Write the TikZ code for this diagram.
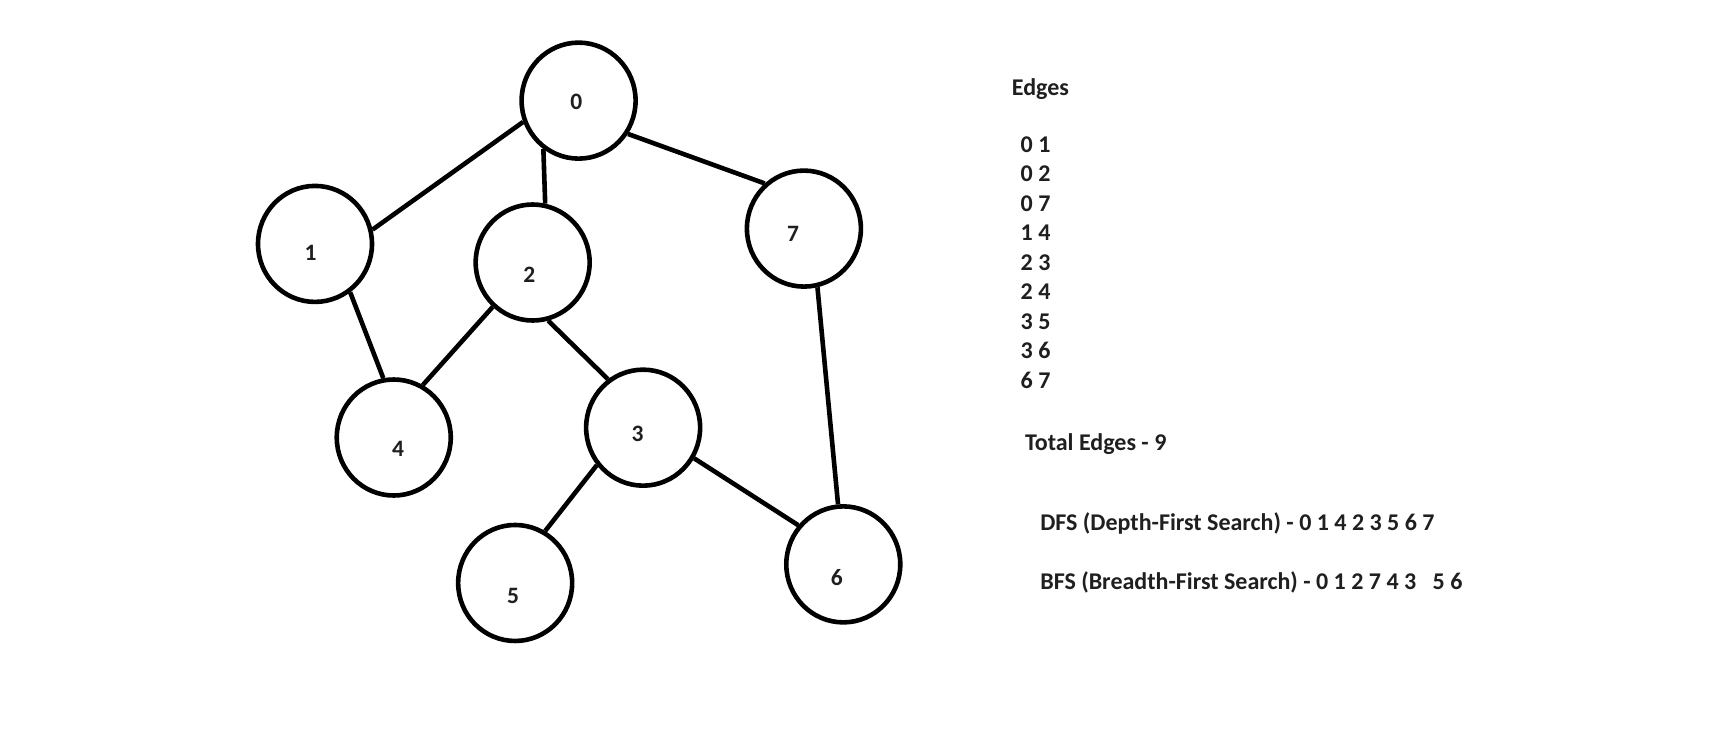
\documentclass[tikz,border=0pt]{standalone}
\usepackage{fontspec}
\setmainfont{Carlito}
\usetikzlibrary{shapes.geometric}
\begin{document}
\begin{tikzpicture}[x=1.09375pt,y=-1.09375pt,
  vtx/.style={draw,ellipse,line width=4.6pt,minimum width=114pt,minimum height=116pt,inner sep=0pt},
  lbl/.style={font=\fontsize{23.5}{28}\selectfont\bfseries,text=black!88,inner sep=0pt},
  txt/.style={font=\fontsize{24}{28}\selectfont\bfseries,text=black!88,inner sep=0pt,anchor=base west},
  edge/.style={line width=4.6pt}]
\useasboundingbox[fill=white] (0,0) rectangle (1568,688);
% vertices
\node[vtx] (n0) at (529,92) {};
\node[vtx] (n1) at (288,223) {};
\node[vtx] (n2) at (487,240) {};
\node[vtx] (n7) at (735,209) {};
\node[vtx] (n4) at (360,400) {};
\node[vtx] (n3) at (588,391) {};
\node[vtx] (n5) at (471,533) {};
\node[vtx] (n6) at (771,516) {};
% vertex labels
\node[lbl] (t0) at (527,93) {0};
\node[lbl] (t1) at (284,231) {1};
\node[lbl] (t2) at (484,251) {2};
\node[lbl] (t7) at (725,214) {7};
\node[lbl] (t4) at (364,410) {4};
\node[lbl] (t3) at (583,397) {3};
\node[lbl] (t5) at (469,545) {5};
\node[lbl] (t6) at (765,528) {6};
% edges
\draw[edge] (n0.201) -- (n1.14);
\draw[edge] (n0.234) -- (n2.78);
\draw[edge] (n0.326) -- (n7.131);
\draw[edge] (n1.306) -- (n4.100);
\draw[edge] (n2.228) -- (n4.61);
\draw[edge] (n2.285) -- (n3.126);
\draw[edge] (n3.219) -- (n5.60);
\draw[edge] (n3.329) -- (n6.139);
\draw[edge] (n7.283) -- (n6.95);
% text
\node[txt] (hd) at (925,87) {Edges};
\node[txt] (e1) at (933,139) {0 1};
\node[txt] (e2) at (933,166) {0 2};
\node[txt] (e3) at (933,193) {0 7};
\node[txt] (e4) at (933,220) {1 4};
\node[txt] (e5) at (933,247) {2 3};
\node[txt] (e6) at (933,274) {2 4};
\node[txt] (e7) at (933,301) {3 5};
\node[txt] (e8) at (933,328) {3 6};
\node[txt] (e9) at (933,355) {6 7};
\node[txt] (tot) at (937,412) {Total Edges - 9};
\node[txt] (dfs) at (951,485) {DFS (Depth-First Search) - 0 1 4 2 3 5 6 7};
\node[txt] (bfs) at (951,539) {BFS (Breadth-First Search) - 0 1 2 7 4 3\hspace{11pt} 5 6};
\end{tikzpicture}
\end{document}
